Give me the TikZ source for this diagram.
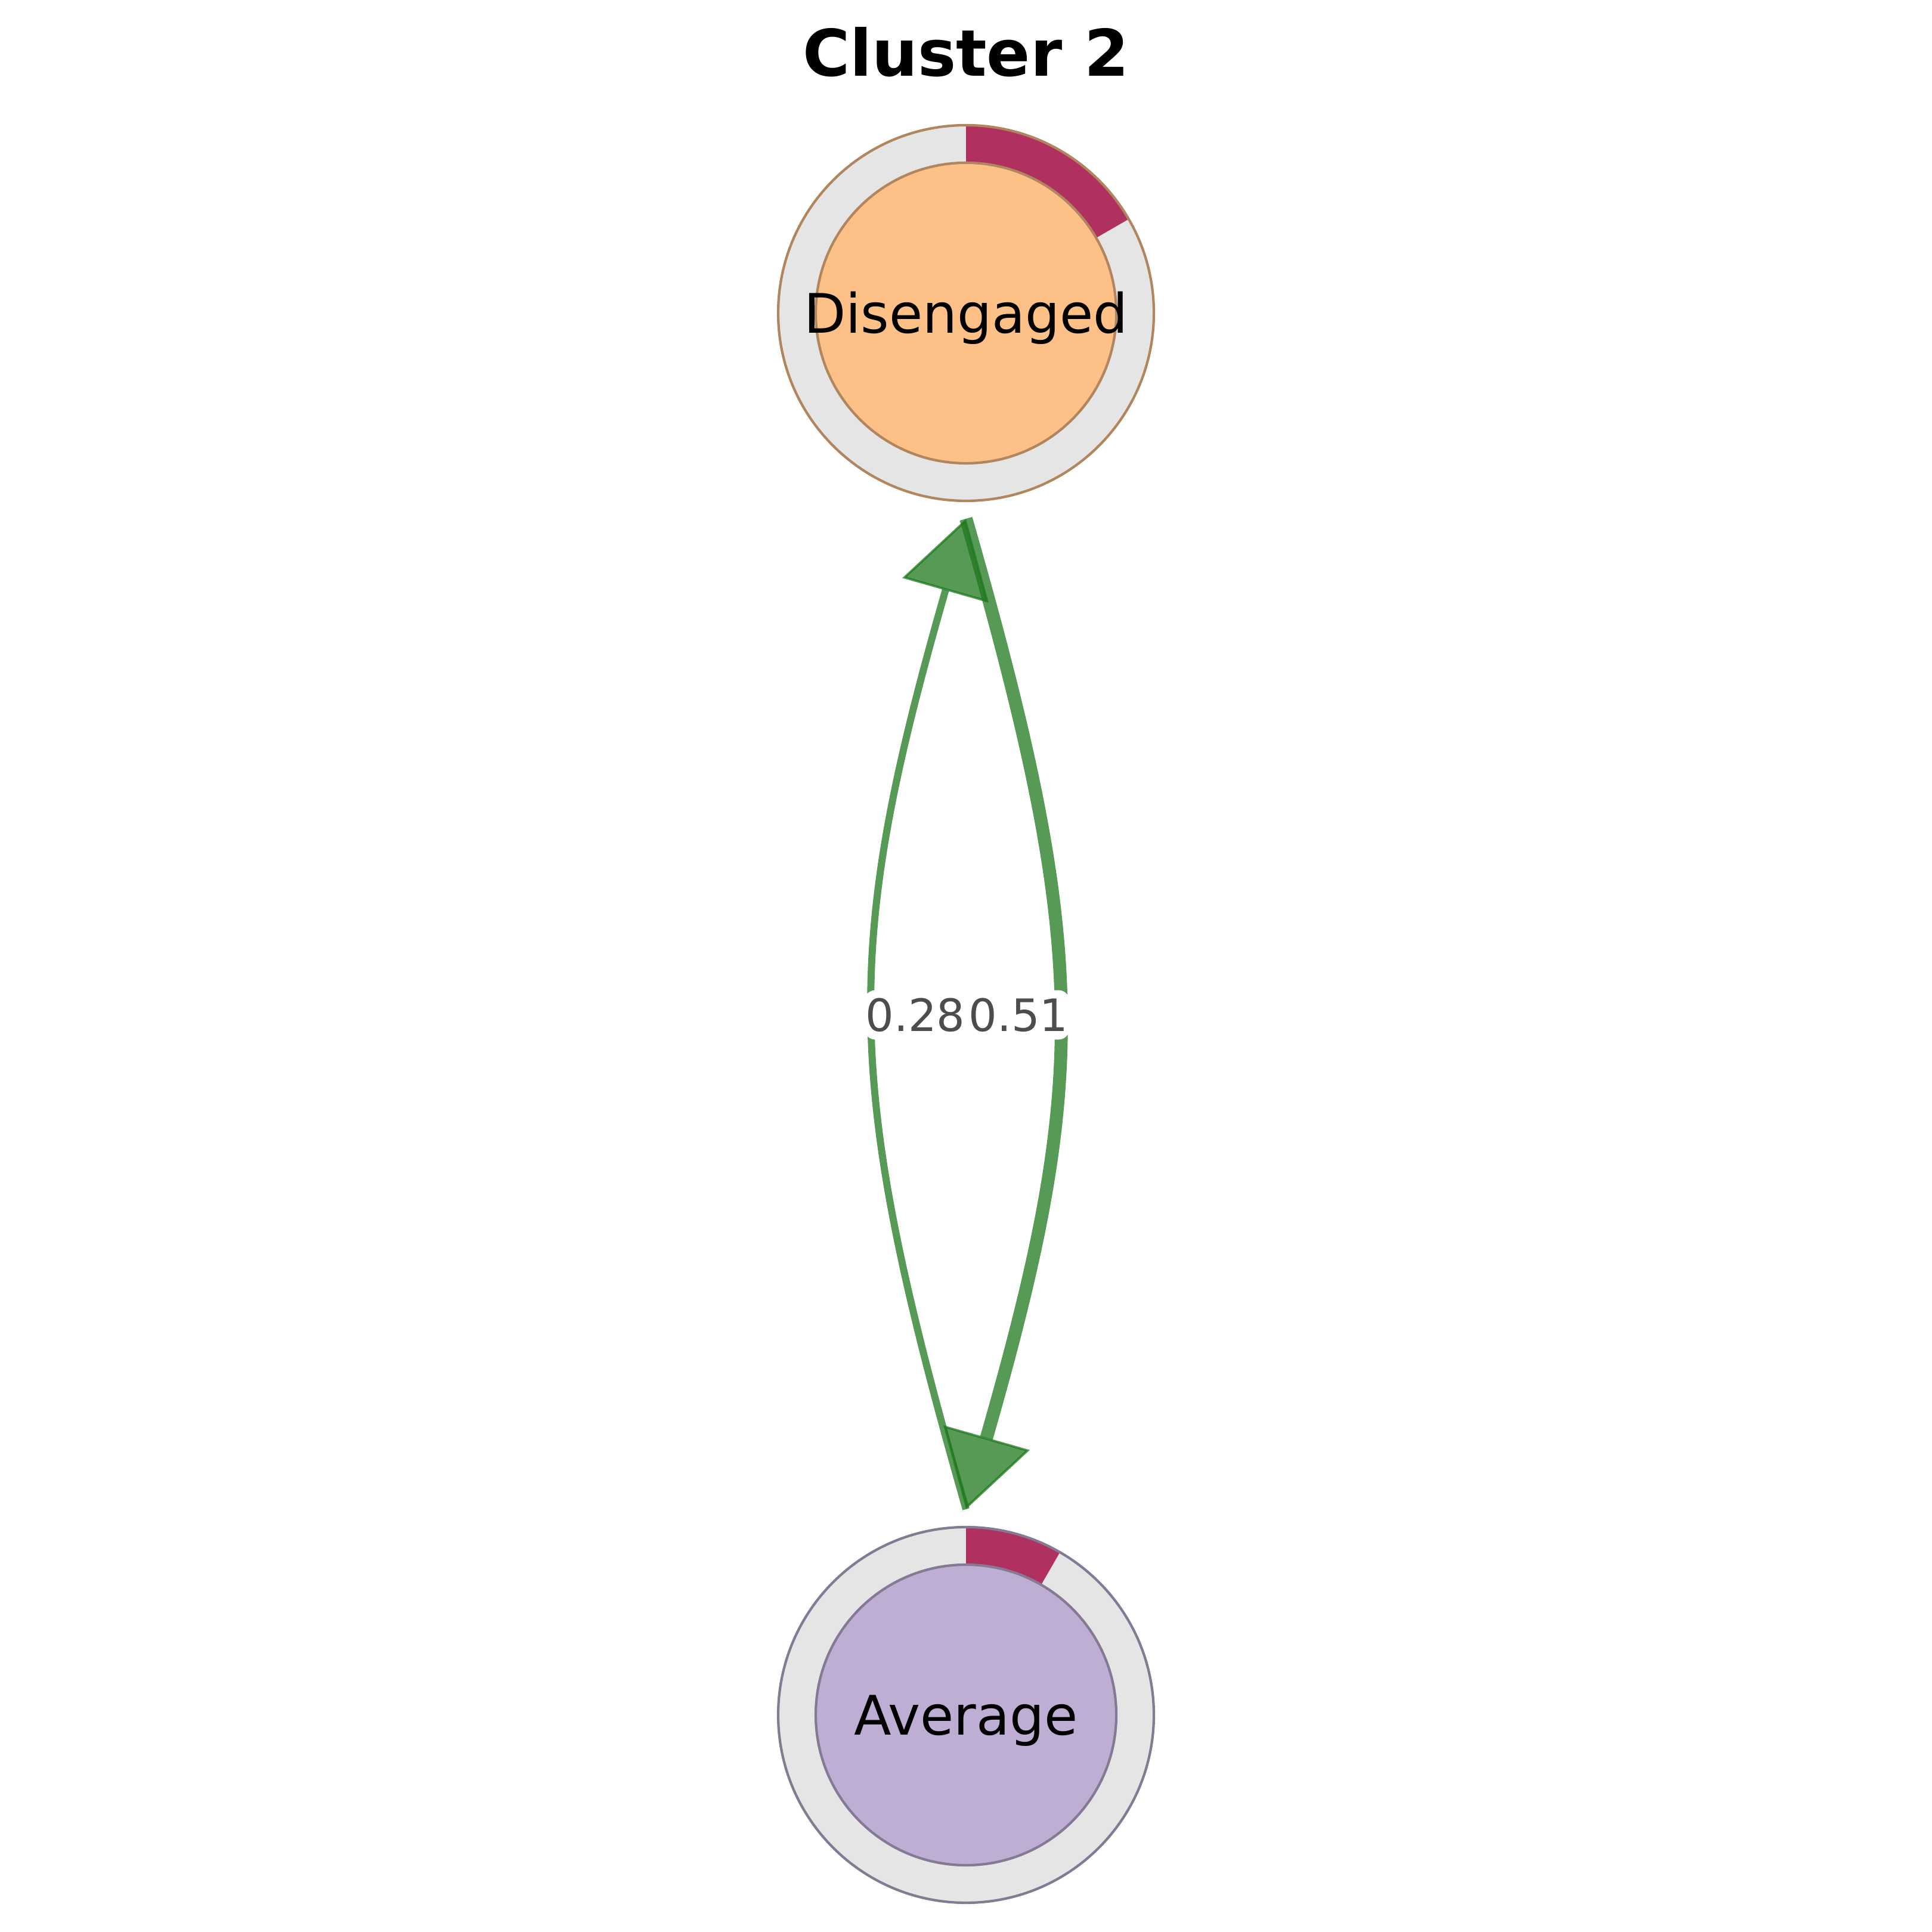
\documentclass[tikz,border=0pt]{standalone}
\usepackage{fontspec}
\setmainfont{DejaVu Sans}
\usetikzlibrary{arrows.meta}
\definecolor{ringgray}{RGB}{229,229,229}
\definecolor{ringred}{RGB}{176,48,96}
\definecolor{disfill}{RGB}{253,192,134}
\definecolor{disedge}{RGB}{177,134,94}
\definecolor{avgfill}{RGB}{190,174,212}
\definecolor{avgedge}{RGB}{133,122,148}
\definecolor{flowgreen}{RGB}{30,120,30}
\definecolor{labelgray}{RGB}{77,77,77}

\begin{document}
\begin{tikzpicture}[
  ring/.style={circle, minimum size=6.3cm, inner sep=0pt, outer sep=0.3cm, fill=ringgray},
  core/.style={circle, minimum size=5.04cm, inner sep=-0.6cm, line width=1.2pt, font=\fontsize{26}{30}\selectfont, text height=19pt, text depth=0pt},
  flow/.style={draw=flowgreen, opacity=0.75, -{Triangle[length=1.25cm, width=1.5cm, line width=1.1pt]}, bend left=16, looseness=1.16},
  weight/.style={fill=white, rounded corners=5pt, inner xsep=0.5pt, inner ysep=3.7pt, text=labelgray, font=\fontsize{21.3}{25}\selectfont}
]
  \useasboundingbox (0,0) rectangle (32.4,32.4);
  \node[font=\fontsize{30.7}{36}\selectfont\bfseries, anchor=base] (title) at (16.2,31.12) {Cluster 2};

  % Disengaged
  \node[ring] (dis) at (16.2,27.15) {};
  \fill[ringred] (dis.center) ++(90:3.15) arc[start angle=90, end angle=30, radius=3.15] -- ++(210:0.63) arc[start angle=30, end angle=90, radius=2.52] -- cycle;
  \draw[disedge, line width=1.2pt] (dis.center) circle[radius=3.15];
  \node[core, fill=disfill, draw=disedge] (dis-core) at (dis.center) {Disengaged};

  % Average
  \node[ring] (avg) at (16.2,3.64) {};
  \fill[ringred] (avg.center) ++(90:3.15) arc[start angle=90, end angle=60, radius=3.15] -- ++(240:0.63) arc[start angle=60, end angle=90, radius=2.52] -- cycle;
  \draw[avgedge, line width=1.2pt] (avg.center) circle[radius=3.15];
  \node[core, fill=avgfill, draw=avgedge] (avg-core) at (avg.center) {Average};

  % transitions
  \draw[flow, line width=3.4pt] (avg.north) to (dis.south);
  \draw[flow, line width=6.2pt] (dis.south) to (avg.north);

  \node[weight] (w-avg-dis) at (15.35,15.38) {0.28};
  \node[weight] (w-dis-avg) at (17.08,15.38) {0.51};
\end{tikzpicture}
\end{document}
